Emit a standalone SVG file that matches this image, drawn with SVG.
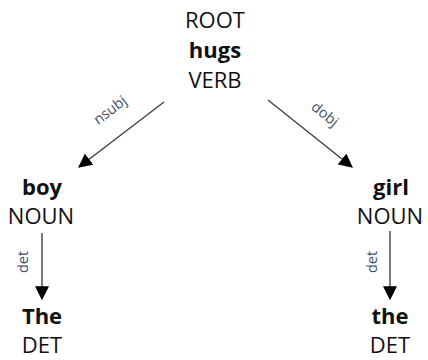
<svg xmlns="http://www.w3.org/2000/svg" width="428" height="360" viewBox="0 0 428 360">
<style>
.t{font-family:"Open Sans","Liberation Sans",sans-serif;font-size:22px;fill:#111;text-anchor:middle}
.b{font-weight:bold}
.l{font-family:"Open Sans","Liberation Sans",sans-serif;font-size:14.5px;fill:#3d4f6e;text-anchor:middle}
.c{stroke:#404040;stroke-width:1.4;fill:none;marker-end:url(#ah)}
</style>
<defs>
<marker id="ah" viewBox="0 0 12 12" refX="11" refY="6" markerWidth="14" markerHeight="14" markerUnits="userSpaceOnUse" orient="auto">
<path d="M0,0 L12,6 L0,12 Z" fill="#000"/>
</marker>
</defs>
<rect width="428" height="360" fill="#fff"/>
<g id="hugs">
<text class="t" x="215" y="28">ROOT</text>
<text class="t b" x="215" y="58">hugs</text>
<text class="t" x="215" y="88">VERB</text>
</g>
<g id="boy">
<text class="t b" x="42" y="195">boy</text>
<text class="t" x="41" y="224">NOUN</text>
</g>
<g id="girl">
<text class="t b" x="391" y="195">girl</text>
<text class="t" x="390" y="224">NOUN</text>
</g>
<g id="The">
<text class="t b" x="42" y="324">The</text>
<text class="t" x="42" y="353">DET</text>
</g>
<g id="the">
<text class="t b" x="390" y="324">the</text>
<text class="t" x="390" y="353">DET</text>
</g>
<g id="connectors">
<line class="c" x1="164" y1="102" x2="79" y2="167"/>
<line class="c" x1="268" y1="100" x2="352" y2="167"/>
<line class="c" x1="42" y1="233" x2="42" y2="299"/>
<line class="c" x1="390" y1="231" x2="390" y2="299"/>
<text class="l" transform="translate(113,114) rotate(-37)">nsubj</text>
<text class="l" transform="translate(322,118) rotate(39)">dobj</text>
<text class="l" transform="translate(28,262) rotate(-90)">det</text>
<text class="l" transform="translate(377,262) rotate(-90)">det</text>
</g>
</svg>
